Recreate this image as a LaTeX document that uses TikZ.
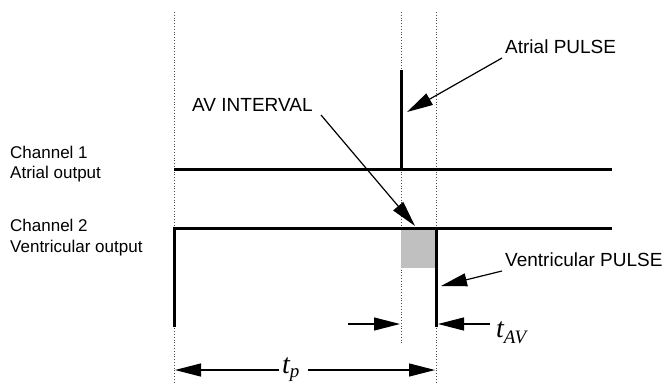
\documentclass[tikz,border=0pt]{standalone}
\usepackage{fontspec}
\setmainfont{Liberation Sans}
\newfontfamily\tms{Liberation Serif}
\usetikzlibrary{arrows.meta}
\definecolor{avgray}{RGB}{192,192,192}
\newcommand{\tsym}[2][-6pt]{{\tms\itshape\fontsize{28}{28}\selectfont t}\raisebox{#1}{\tms\itshape\fontsize{19}{19}\selectfont #2}}
\begin{document}
\begin{tikzpicture}[x=1pt,y=-1pt,
  sig/.style={line width=3pt},
  guide/.style={line width=0.8pt, dotted, black!70},
  ptr/.style={line width=1.2pt, -{Triangle[length=26pt,width=13pt]}},
  lbl/.style={font=\fontsize{19}{22}\selectfont, inner sep=0pt, anchor=base west},
  chl/.style={font=\fontsize{17}{21}\selectfont, inner sep=0pt, anchor=base west},
  sym/.style={inner sep=0pt, anchor=base west}]
\useasboundingbox (0,0) rectangle (668,383);
% guide lines
\coordinate (gLt) at (174,12);  \coordinate (gLb) at (174,383);
\coordinate (gMt) at (401,12);  \coordinate (gMb) at (401,343);
\coordinate (gRt) at (436,12);  \coordinate (gRb) at (436,383);
\draw[guide] (gLt) -- (gLb);
\draw[guide] (gMt) -- (gMb);
\draw[guide] (gRt) -- (gRb);
% AV interval shading
\fill[avgray] (401,228) rectangle (437,268);
% channel 1
\coordinate (c1a) at (174,169); \coordinate (c1b) at (612,169);
\coordinate (p1t) at (401,70);  \coordinate (p1b) at (401,169);
\draw[sig] (c1a) -- (c1b);
\draw[sig] (p1b) -- (p1t);
% channel 2
\coordinate (c2s) at (174,327); \coordinate (c2a) at (174,228); \coordinate (c2b) at (612,228);
\coordinate (p2t) at (436,228); \coordinate (p2b) at (436,327);
\draw[sig, line join=miter] (c2s) -- (c2a) -- (c2b);
\draw[sig] (p2t) -- (p2b);
% channel labels
\node[chl] (ch1) at (10,158) {Channel 1};
\node[chl] (ch1b) at (10,178) {Atrial output};
\node[chl] (ch2) at (10,231) {Channel 2};
\node[chl] (ch2b) at (10,252) {Ventricular output};
% annotation labels
\node[lbl] (ap) at (505,53) {Atrial PULSE};
\node[lbl] (av) at (192,111) {AV INTERVAL};
\node[lbl] (vp) at (505,266) {Ventricular PULSE};
% pointers
\coordinate (apS) at (502,58);  \coordinate (apT) at (407,112);
\coordinate (avS) at (321,115); \coordinate (avT) at (415,226);
\coordinate (vpS) at (502,271); \coordinate (vpT) at (441,286);
\draw[ptr] (apS) -- (apT);
\draw[ptr] (avS) -- (avT);
\draw[ptr] (vpS) -- (vpT);
% t_AV dimension
\node[sym] (tav) at (496,337) {\tsym{AV}};
\coordinate (d1S) at (348,324); \coordinate (d1T) at (400,324);
\coordinate (d2S) at (490,324); \coordinate (d2T) at (438,324);
\draw[ptr] (d1S) -- (d1T);
\draw[ptr] (d2S) -- (d2T);
% t_p dimension
\node[sym] (tp) at (282,373) {\tsym[-4pt]{p}};
\coordinate (e1S) at (279,370); \coordinate (e1T) at (175,370);
\coordinate (e2S) at (308,370); \coordinate (e2T) at (435,370);
\draw[ptr] (e1S) -- (e1T);
\draw[ptr] (e2S) -- (e2T);
\end{tikzpicture}
\end{document}
